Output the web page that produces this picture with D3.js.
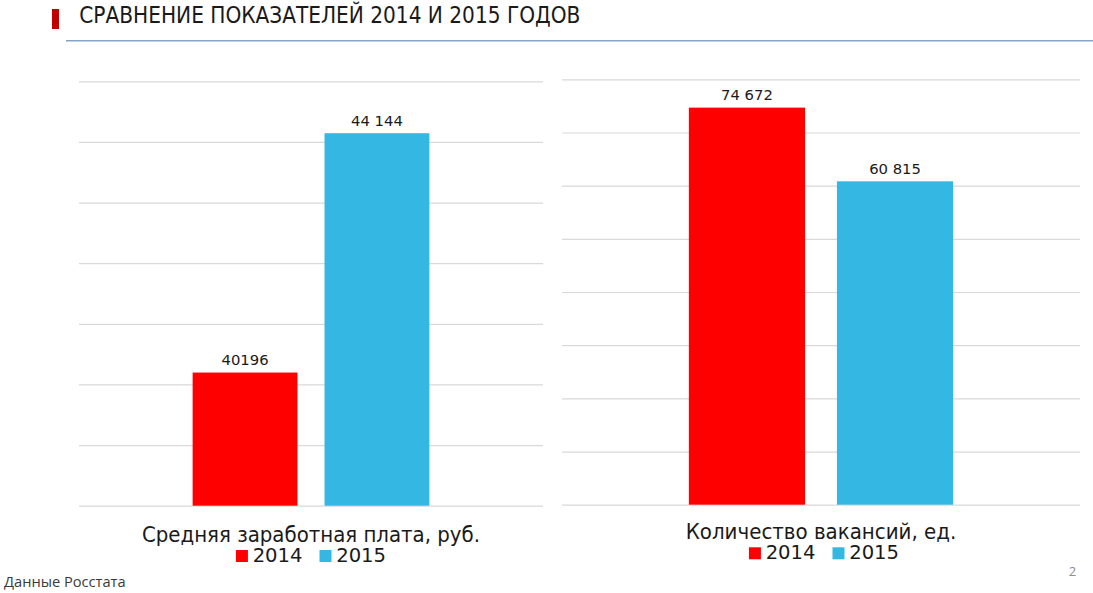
<!DOCTYPE html>
<html><head><meta charset="utf-8">
<script src="https://cdn.jsdelivr.net/npm/d3@7"></script>
<style>body{margin:0;background:#fff;} svg{display:block;}</style>
</head><body><svg id="c" width="1093" height="593"></svg>
<script>
// ---- data ----
const titleText = "СРАВНЕНИЕ ПОКАЗАТЕЛЕЙ 2014 И 2015 ГОДОВ";
const sourceText = "Данные Росстата";
const pageNumber = "2";
const seriesNames = ["2014", "2015"];
const seriesColors = ["#ff0000", "#35b7e3"];

const salaryCategory = ["Средняя заработная плата, руб."];
const salaryValues = [40196, 44144];
const salaryLabels = ["40196", "44 144"];
const salaryDomain = [38000, 45000];
const salaryTickStep = 1000;

const vacancyCategory = ["Количество вакансий, ед."];
const vacancyValues = [74672, 60815];
const vacancyLabels = ["74 672", "60 815"];
const vacancyDomain = [0, 80000];
const vacancyTickStep = 10000;

// ---- drawing ----
const svg = d3.select("#c");
const FONT = "'DejaVu Sans', Verdana, sans-serif";
const FONT_C = "'DejaVu Sans Condensed', 'DejaVu Sans', sans-serif";

function fit(sel, target) {
  const n = sel.node();
  const fs = parseFloat(sel.attr("font-size"));
  const w = n.getComputedTextLength();
  sel.attr("font-size", (fs * target / w).toFixed(2));
}

// header
svg.append("rect").attr("x", 52).attr("y", 9).attr("width", 7).attr("height", 20).attr("fill", "#c00000");
const title = svg.append("text").attr("x", 79.3).attr("y", 23.3)
  .attr("font-family", FONT_C).attr("font-size", 20).attr("fill", "#1a1a1a").text(titleText);
fit(title, 501.4);
svg.append("line").attr("x1", 66).attr("x2", 1093).attr("y1", 40.7).attr("y2", 40.7)
  .attr("stroke", "#86a3c9").attr("stroke-width", 1.5);

function drawPanel(o) {
  const g = svg.append("g");
  const w = o.x1 - o.x0;
  const y = d3.scaleLinear().domain(o.domain).range([o.yBase, o.yTop]);
  const ticks = d3.range(o.domain[0], o.domain[1] + o.step / 2, o.step);

  const axis = g.append("g").attr("transform", `translate(${o.x0},0)`)
    .call(d3.axisLeft(y).tickValues(ticks).tickSize(-w).tickFormat(""));
  axis.select(".domain").remove();
  axis.selectAll(".tick line").attr("stroke", "#d9d9d9").attr("stroke-width", 1.2);

  const xCat = d3.scaleBand().domain(o.category).range([o.x0, o.x1]).paddingInner(0).paddingOuter(o.outerPad);
  const xSer = d3.scaleBand().domain(seriesNames).range([0, xCat.bandwidth()]).paddingInner(o.innerPad).paddingOuter(0);

  const data = seriesNames.map((s, i) => ({ s, v: o.values[i], label: o.labels[i], c: seriesColors[i] }));
  const bars = g.append("g");
  bars.selectAll("rect").data(data).join("rect")
    .attr("x", d => xCat(o.category[0]) + xSer(d.s))
    .attr("width", xSer.bandwidth())
    .attr("y", d => y(d.v))
    .attr("height", d => y(o.domain[0]) - y(d.v))
    .attr("fill", d => d.c);
  bars.selectAll("text").data(data).join("text")
    .attr("x", d => xCat(o.category[0]) + xSer(d.s) + xSer.bandwidth() / 2)
    .attr("y", d => y(d.v) - 7.5)
    .attr("text-anchor", "middle").attr("font-family", FONT).attr("font-size", 14.8)
    .attr("fill", "#1a1a1a").text(d => d.label);

  const cx = (o.x0 + o.x1) / 2;
  const cat = g.append("text").attr("x", cx).attr("y", o.catBaseline).attr("text-anchor", "middle")
    .attr("font-family", FONT_C).attr("font-size", 20).attr("fill", "#1a1a1a").text(o.category[0]);
  fit(cat, o.catWidth);

  // legend
  const leg = g.append("g");
  const sq = 12, gap1 = 4.7, gap2 = 17;
  const items = data.map(d => {
    const t = leg.append("text").attr("y", o.legBaseline).attr("font-family", FONT)
      .attr("font-size", 19.6).attr("fill", "#1a1a1a").text(d.s);
    return { d, t, w: t.node().getComputedTextLength() };
  });
  const total = d3.sum(items, it => sq + gap1 + it.w) + gap2 * (items.length - 1);
  let xx = cx - total / 2 + o.legShift;
  items.forEach(it => {
    leg.append("rect").attr("x", xx).attr("y", o.legBaseline - sq + 0.3).attr("width", sq).attr("height", sq).attr("fill", it.d.c);
    it.t.attr("x", xx + sq + gap1);
    xx += sq + gap1 + it.w + gap2;
  });
}

drawPanel({
  x0: 79, x1: 543, yTop: 81.3, yBase: 505.7,
  domain: salaryDomain, step: salaryTickStep,
  values: salaryValues, labels: salaryLabels, category: salaryCategory,
  outerPad: 0.48, innerPad: 0.205,
  catBaseline: 541.7, catWidth: 338, legBaseline: 561.7, legShift: 0
});
drawPanel({
  x0: 562, x1: 1080, yTop: 79.3, yBase: 504.7,
  domain: vacancyDomain, step: vacancyTickStep,
  values: vacancyValues, labels: vacancyLabels, category: vacancyCategory,
  outerPad: 0.48, innerPad: 0.215,
  catBaseline: 539.3, catWidth: 270.7, legBaseline: 559, legShift: 3
});

// footer
const src = svg.append("text").attr("x", 4).attr("y", 587.3)
  .attr("font-family", "'Open Sans', 'DejaVu Sans', sans-serif").attr("font-size", 14).attr("fill", "#3a3a3a").text(sourceText);
fit(src, 121.7);
svg.append("text").attr("x", 1072.5).attr("y", 576).attr("text-anchor", "middle")
  .attr("font-family", "'Open Sans', sans-serif").attr("font-size", 13).attr("fill", "#8c8c8c").text(pageNumber);
</script></body></html>
